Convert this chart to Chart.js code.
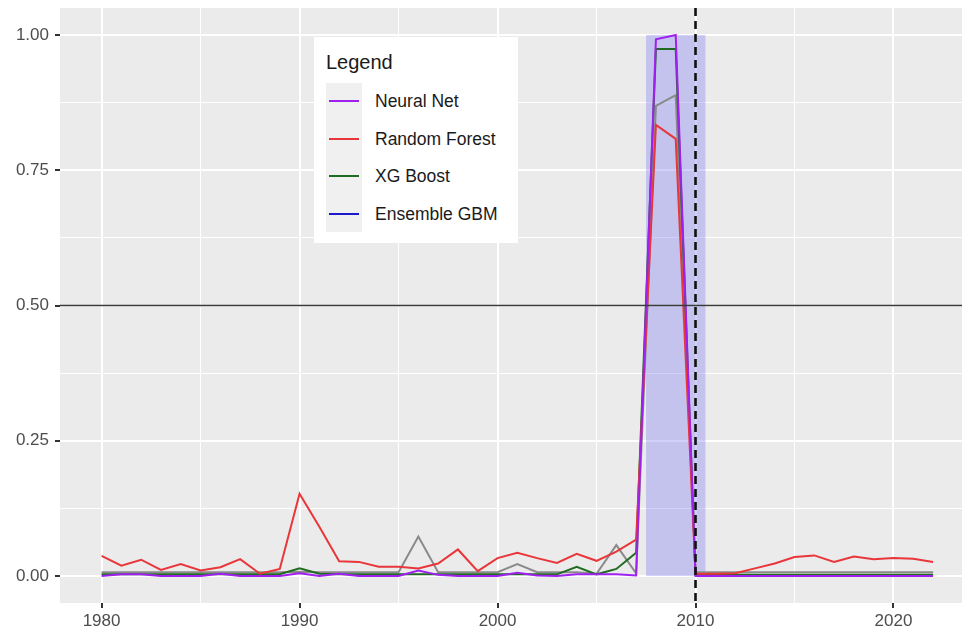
<!DOCTYPE html>
<html>
<head>
<meta charset="utf-8">
<script src="https://cdn.jsdelivr.net/npm/chart.js@4/dist/chart.umd.min.js"></script>
<style>
  html, body { margin: 0; padding: 0; background: #fff; }
  #wrap { position: relative; width: 962px; height: 629px; }
  #legend {
    position: absolute; left: 314px; top: 37px; width: 204px; height: 206px;
    background: #fff; font-family: "Liberation Sans", Arial, sans-serif; color: #1a1a1a;
  }
  #legend .title { position: absolute; left: 12px; top: 14px; font-size: 20px; }
  #legend .keys { position: absolute; left: 12px; top: 46px; width: 36px; height: 149px; background: #f0f0f0; }
  #legend .item { position: absolute; left: 12px; height: 20px; }
  #legend .item i { position: absolute; left: 3px; top: 9px; width: 30px; height: 2px; }
  #legend .item span { position: absolute; left: 49px; top: 0; font-size: 17.5px; white-space: nowrap; line-height: 20px; }
</style>
</head>
<body>
<div id="wrap">
  <canvas id="chart" width="962" height="629"></canvas>
  <div id="legend"><div class="title">Legend</div><div class="keys"></div></div>
</div>
<script>
// ─── Data ────────────────────────────────────────────────
const years = [];
for (let y = 1980; y <= 2022; y++) years.push(y);

const neuralNet = [
  0.000, 0.003, 0.003, 0.000, 0.000, 0.000, 0.004, 0.000, 0.000, 0.000,
  0.005, 0.000, 0.004, 0.000, 0.000, 0.000, 0.010, 0.002, 0.000, 0.000,
  0.000, 0.006, 0.001, 0.000, 0.003, 0.003, 0.003, 0.001, 0.992, 1.000,
  0.000, 0.000, 0.000, 0.000, 0.000, 0.000, 0.000, 0.000, 0.000, 0.000,
  0.000, 0.000, 0.000
];
const randomForest = [
  0.037, 0.019, 0.030, 0.011, 0.022, 0.010, 0.016, 0.031, 0.004, 0.013,
  0.152, 0.091, 0.027, 0.026, 0.017, 0.017, 0.014, 0.023, 0.049, 0.009,
  0.033, 0.043, 0.033, 0.024, 0.041, 0.028, 0.045, 0.067, 0.834, 0.808,
  0.004, 0.004, 0.005, 0.014, 0.023, 0.035, 0.038, 0.026, 0.036, 0.031,
  0.033, 0.032, 0.026
];
const xgBoost = [
  0.003, 0.003, 0.003, 0.003, 0.003, 0.003, 0.003, 0.003, 0.003, 0.003,
  0.014, 0.004, 0.003, 0.003, 0.003, 0.003, 0.003, 0.003, 0.003, 0.003,
  0.003, 0.003, 0.003, 0.003, 0.017, 0.003, 0.013, 0.043, 0.974, 0.974,
  0.002, 0.002, 0.002, 0.002, 0.002, 0.002, 0.002, 0.002, 0.002, 0.002,
  0.002, 0.002, 0.002
];
const ensembleGbm = [
  0.007, 0.007, 0.007, 0.007, 0.007, 0.007, 0.007, 0.007, 0.007, 0.007,
  0.008, 0.007, 0.007, 0.007, 0.007, 0.007, 0.073, 0.007, 0.007, 0.007,
  0.007, 0.022, 0.007, 0.007, 0.007, 0.004, 0.057, 0.005, 0.869, 0.889,
  0.007, 0.007, 0.007, 0.007, 0.007, 0.007, 0.007, 0.007, 0.007, 0.007,
  0.007, 0.007, 0.007
];

const xTicks = [1980, 1985, 1990, 1995, 2000, 2005, 2010, 2015, 2020];
const yTicks = [0, 0.125, 0.25, 0.375, 0.5, 0.625, 0.75, 0.875, 1.0];

const shadeFrom = 2007.5, shadeTo = 2010.5;   // shaded period
const cutYear = 2010;                          // dashed line
const threshold = 0.5;                         // horizontal line

const legendLabels = ["Neural Net", "Random Forest", "XG Boost", "Ensemble GBM"];
const legendColors = ["#a020f0", "#e8363a", "#1f6b1f", "#1a1acc"];

// ─── Legend (html box inside panel) ───────────────────────
const legendEl = document.getElementById("legend");
legendLabels.forEach((lab, i) => {
  const d = document.createElement("div");
  d.className = "item";
  d.style.top = Math.round(54 + i * 37.5) + "px";
  d.innerHTML = `<i style="background:${legendColors[i]}"></i><span>${lab}</span>`;
  legendEl.appendChild(d);
});

// ─── Panel decorations ───────────────────────────────────
const panelPlugin = {
  id: "panel",
  beforeDraw(chart) {
    const { ctx, chartArea: a } = chart;
    ctx.save();
    ctx.fillStyle = "#ebebeb";
    ctx.fillRect(a.left, a.top, a.right - a.left, a.bottom - a.top);
    ctx.restore();
  },
  beforeDatasetsDraw(chart) {
    const { ctx, scales: { x, y } } = chart;
    const x0 = x.getPixelForValue(shadeFrom), x1 = x.getPixelForValue(shadeTo);
    const y0 = y.getPixelForValue(1), y1 = y.getPixelForValue(0);
    ctx.save();
    ctx.fillStyle = "rgba(120,120,240,0.35)";
    ctx.fillRect(x0, y0, x1 - x0, y1 - y0);
    ctx.restore();
  },
  afterDatasetsDraw(chart) {
    const { ctx, chartArea: a, scales: { x, y } } = chart;
    ctx.save();
    const yh = y.getPixelForValue(threshold);
    ctx.strokeStyle = "#3a3a3a";
    ctx.lineWidth = 1.6;
    ctx.beginPath(); ctx.moveTo(a.left, yh); ctx.lineTo(a.right, yh); ctx.stroke();
    const xv = x.getPixelForValue(cutYear);
    ctx.strokeStyle = "#111";
    ctx.lineWidth = 2.6;
    ctx.setLineDash([8, 5]);
    ctx.beginPath(); ctx.moveTo(xv, a.top); ctx.lineTo(xv, a.bottom); ctx.stroke();
    ctx.restore();
  }
};

function series(data, color, width) {
  return {
    data: years.map((yr, i) => ({ x: yr, y: data[i] })),
    borderColor: color,
    borderWidth: width || 2,
    pointRadius: 0,
    tension: 0,
    fill: false,
  };
}

const isMajorX = v => v % 10 === 0;
const isMajorY = v => Math.abs(v * 4 - Math.round(v * 4)) < 1e-9;
const FONT = { family: "'Liberation Sans', Arial, sans-serif", size: 17 };

// drop the label-overflow padding chart.js adds so the panel fills the canvas
function noPad(s) { s.paddingTop = 0; s.paddingBottom = 0; s.paddingLeft = 0; s.paddingRight = 0; }

new Chart(document.getElementById("chart"), {
  type: "line",
  data: {
    datasets: [
      series(neuralNet, "#a020f0"),
      series(randomForest, "#e8363a"),
      series(xgBoost, "#1f6b1f"),
      series(ensembleGbm, "#8a8a8a"),
    ]
  },
  options: {
    responsive: false,
    animation: false,
    devicePixelRatio: 1,
    layout: { padding: { top: 8, right: 0, left: 0, bottom: 0 } },
    plugins: { legend: { display: false }, tooltip: { enabled: false } },
    scales: {
      x: {
        type: "linear",
        min: 1977.9,
        max: 2023.46,
        afterBuildTicks: s => { s.ticks = xTicks.map(v => ({ value: v })); },
        afterFit: s => { s.height = 26; noPad(s); },
        border: { display: false },
        grid: {
          color: "#ffffff",
          lineWidth: c => (c.tick && isMajorX(c.tick.value)) ? 2 : 1,
          tickColor: c => (c.tick && isMajorX(c.tick.value)) ? "#333" : "rgba(0,0,0,0)",
          tickLength: 5,
        },
        ticks: {
          autoSkip: false, maxRotation: 0, padding: 3,
          color: "#4d4d4d", font: FONT,
          callback: v => isMajorX(v) ? String(v) : "",
        }
      },
      y: {
        min: -0.05,
        max: 1.05,
        afterBuildTicks: s => { s.ticks = yTicks.map(v => ({ value: v })); },
        afterFit: s => { s.width = 60; noPad(s); },
        border: { display: false },
        grid: {
          color: "#ffffff",
          lineWidth: c => (c.tick && isMajorY(c.tick.value)) ? 2 : 1,
          tickColor: c => (c.tick && isMajorY(c.tick.value)) ? "#333" : "rgba(0,0,0,0)",
          tickLength: 5,
        },
        ticks: {
          autoSkip: false, padding: 6,
          color: "#4d4d4d", font: FONT,
          callback: v => isMajorY(v) ? v.toFixed(2) : "",
        }
      }
    }
  },
  plugins: [panelPlugin]
});
</script>
</body>
</html>
